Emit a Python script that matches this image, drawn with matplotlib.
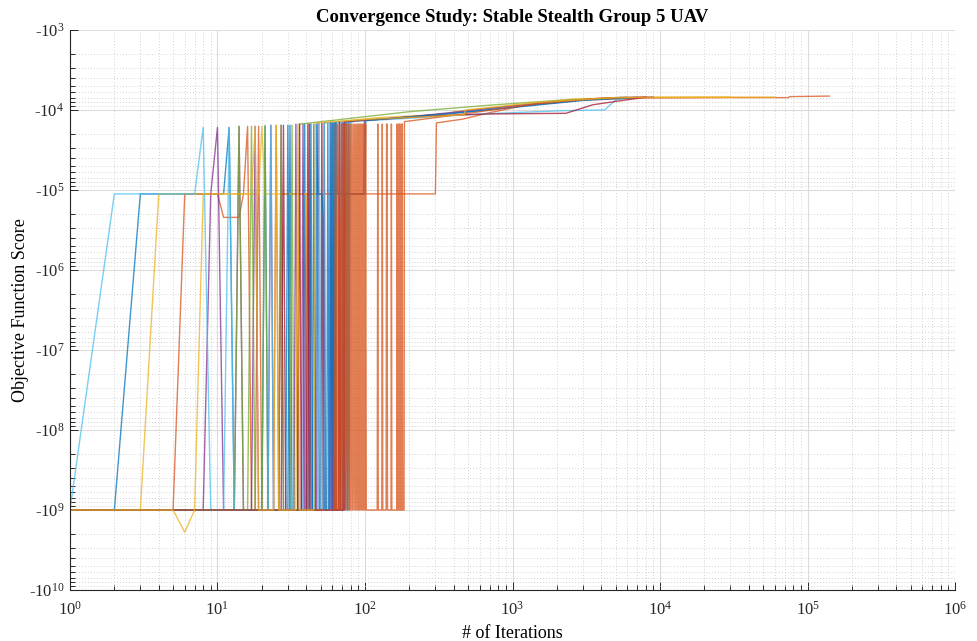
import numpy as np
import matplotlib.pyplot as plt
from matplotlib.ticker import FixedLocator, LogLocator, NullFormatter

plt.rcParams['font.family'] = 'Liberation Serif'
plt.rcParams['mathtext.fontset'] = 'custom'
plt.rcParams['mathtext.rm'] = 'Liberation Serif'
plt.rcParams['mathtext.it'] = 'Liberation Serif:italic'

LO = -1.0e9    # penalty score given to infeasible designs
MD = -1.12e5   # first feasible plateau

# each run: (iteration, objective score)
run01 = [(1, LO), (2, LO), (3, MD), (11, MD), (12, -1.65e4), (13, LO), (20, LO), (21, -1.6e4),
         (22, LO), (30, LO), (31, -1.55e4), (32, LO), (38, LO), (39, -1.5e4), (40, LO), (44, LO),
         (45, -1.5e4), (46, LO), (55, LO), (56, -1.45e4), (57, LO), (60, LO), (61, -1.45e4),
         (62, LO), (68, LO), (69, -1.42e4), (70, LO), (71, -1.42e4), (72, LO), (73, -1.42e4),
         (74, LO), (75, -1.42e4), (76, LO), (77, -1.42e4), (78, LO), (79, -1.42e4), (90, -1.36e4),
         (200, -1.22e4), (600, -1.02e4), (1500, -8.5e3), (3000, -7.5e3), (5500, -7.0e3)]

run02 = [(1, LO), (5, LO), (6, MD), (10, MD), (11, -2.2e5), (14, -2.2e5), (15, MD), (16, -1.6e4),
         (17, LO), (18, LO), (19, -1.6e4), (20, LO), (24, LO), (25, -1.55e4), (26, LO), (27, MD),
         (300, MD), (305, -1.45e4), (460, -1.3e4), (700, -1.08e4), (1200, -8.8e3), (3000, -7.5e3),
         (8000, -7.1e3), (30000, -7.0e3), (74000, -7.0e3), (76000, -6.8e3), (140000, -6.7e3)]

run03 = [(1, LO), (3, LO), (4, MD), (19, MD), (20, -1.6e4), (21, MD), (40, MD), (41, LO),
         (42, -1.5e4), (43, LO), (50, LO), (51, -1.45e4), (52, LO), (53, -1.45e4), (120, -1.25e4),
         (380, -1.12e4), (400, -1.05e4), (1000, -8.8e3), (2500, -7.3e3), (9000, -6.9e3),
         (30000, -6.9e3)]

run04 = [(1, LO), (8, LO), (9, MD), (10, -1.65e4), (11, LO), (13, LO), (14, -1.6e4), (15, LO),
         (17, LO), (18, -1.6e4), (19, LO), (22, LO), (23, -1.55e4), (24, LO), (26, LO),
         (27, -1.55e4), (28, LO), (33, LO), (34, -1.5e4), (35, LO), (37, LO), (38, -1.5e4),
         (39, LO), (41, LO), (42, -1.5e4), (43, LO), (47, LO), (48, -1.45e4), (49, LO), (50, LO),
         (51, -1.45e4), (52, LO), (53, -1.45e4), (54, LO), (58, LO), (59, -1.42e4), (60, LO),
         (66, LO), (67, -1.4e4), (68, LO), (70, LO), (71, -1.4e4), (72, LO), (73, MD), (98, MD),
         (99, -1.36e4), (250, -1.17e4), (800, -9.3e3), (2000, -7.8e3), (5000, -7.0e3),
         (9000, -6.9e3)]

run05 = [(1, LO), (13, LO), (14, -1.6e4), (15, LO), (16, LO), (17, -1.6e4), (18, LO), (20, LO),
         (21, -1.55e4), (22, LO), (26, LO), (27, -1.55e4), (28, LO), (31, LO), (32, -1.55e4),
         (33, LO), (35, LO), (36, -1.5e4), (200, -1.05e4), (700, -8.7e3), (2000, -7.6e3),
         (6000, -6.9e3)]

run06 = [(1, LO), (2, MD), (7, MD), (8, -1.65e4), (9, LO), (11, LO), (12, -1.65e4), (13, LO),
         (22, LO), (23, -1.55e4), (24, LO), (48, LO), (49, -1.45e4), (50, LO), (52, LO),
         (53, -1.45e4), (160, -1.3e4), (600, -1.12e4), (2200, -1.02e4), (4200, -1.0e4),
         (5000, -7.5e3), (6000, -7.0e3)]

run07 = [(1, LO), (27, LO), (28, -1.55e4), (29, LO), (35, LO), (36, -1.5e4), (37, LO), (40, LO),
         (41, -1.5e4), (42, LO), (62, LO), (63, -1.45e4), (64, LO), (66, LO), (67, -1.4e4),
         (68, LO), (72, LO), (73, -1.4e4), (90, -1.36e4), (300, -1.18e4), (700, -1.12e4),
         (2300, -1.1e4), (3500, -8.6e3), (8000, -6.9e3)]

run08 = [(1, LO), (29, LO), (30, -1.55e4), (31, LO), (42, LO), (43, -1.5e4), (44, LO), (46, LO),
         (47, -1.5e4), (48, MD), (51, MD), (52, -2.2e5), (53, LO), (57, LO), (58, -1.45e4),
         (59, LO), (60, -1.45e4), (61, LO), (62, -1.45e4), (63, LO), (64, -1.45e4), (65, MD),
         (100, MD), (101, -1.35e4), (400, -1.1e4), (1200, -9.0e3), (3000, -7.6e3), (7000, -6.95e3)]

run09 = [(1, LO), (62, LO), (63, -1.5e4), (64, LO), (65, -1.5e4), (66, LO), (67, -1.5e4), (68, LO),
         (69, -1.5e4), (70, LO), (71, -1.5e4), (72, LO), (73, -1.5e4), (74, LO), (75, -1.5e4),
         (76, LO), (77, -1.5e4), (78, LO), (79, -1.5e4), (80, LO), (81, -1.5e4), (82, LO),
         (83, -1.5e4), (84, LO), (85, -1.5e4), (86, LO), (87, -1.5e4), (88, LO), (89, -1.5e4),
         (90, LO), (91, -1.5e4), (92, LO), (93, -1.5e4), (94, LO), (95, -1.5e4), (96, LO),
         (97, -1.5e4), (98, LO), (99, -1.5e4), (100, LO), (101, -1.5e4), (102, LO), (121, LO),
         (122, -1.5e4), (123, LO), (130, LO), (131, -1.5e4), (132, LO), (139, LO), (140, -1.5e4),
         (141, -1.5e4), (142, LO), (150, LO), (151, -1.5e4), (152, LO), (164, LO), (165, -1.5e4),
         (166, LO), (167, -1.5e4), (168, LO), (170, LO), (171, -1.5e4), (172, LO), (173, -1.5e4),
         (174, LO), (176, LO), (177, -1.5e4), (178, LO), (179, -1.5e4), (180, LO), (184, LO),
         (185, -1.4e4), (500, -1.1e4), (1500, -8.3e3), (4000, -7.1e3), (8000, -6.9e3)]

run10 = [(1, LO), (5, LO), (6, -1.9e9), (7, LO), (8, MD), (17, MD), (18, -1.6e4), (19, LO),
         (24, LO), (25, -1.55e4), (26, LO), (34, LO), (35, -1.5e4), (36, LO), (45, LO),
         (46, -1.45e4), (110, -1.3e4), (300, -1.2e4), (470, -1.15e4), (480, -1.0e4),
         (1500, -8.0e3), (5000, -7.0e3), (20000, -6.9e3), (60000, -6.9e3)]

runs = [run01, run02, run03, run04, run05, run06, run07, run08, run09, run10]
colors = ['#0072BD', '#D95319', '#EDB120', '#7E2F8E', '#77AC30', '#4DBEEE', '#A2142F']


def neg_log(y):
    with np.errstate(divide='ignore', invalid='ignore'):
        return -np.log10(np.abs(y))


def neg_exp(v):
    return -10.0 ** (-np.asarray(v))


fig = plt.figure(figsize=(9.77, 6.41), dpi=100)
ax = fig.add_axes([0.0716, 0.0796, 0.906, 0.8736])

for i, run in enumerate(runs):
    it, score = zip(*run)
    ax.plot(it, score, color=colors[i % len(colors)], lw=1.0, alpha=0.75)

ax.set_xscale('log')
ax.set_yscale('function', functions=(neg_log, neg_exp))
ax.set_xlim(1, 1e6)
ax.set_ylim(-1e10, -1e3)

ax.xaxis.set_minor_locator(LogLocator(base=10, subs=np.arange(2, 10), numticks=100))
ax.xaxis.set_minor_formatter(NullFormatter())
ax.set_xticks([10 ** k for k in range(0, 7)])
ax.set_xticklabels(['10$^{%d}$' % k for k in range(0, 7)])

yt = [-10.0 ** k for k in range(3, 11)]
ax.yaxis.set_major_locator(FixedLocator(yt))
ax.set_yticklabels(['-10$^{%d}$' % k for k in range(3, 11)])
ymin = [-m * 10.0 ** k for k in range(3, 10) for m in range(2, 10)]
ax.yaxis.set_minor_locator(FixedLocator(ymin))
ax.yaxis.set_minor_formatter(NullFormatter())

ax.tick_params(which='both', direction='in', colors='#262626', labelsize=12, width=0.7)
ax.tick_params(which='major', length=6)
ax.tick_params(which='minor', length=3.5)
ax.tick_params(axis='x', pad=8)
ax.tick_params(axis='y', pad=4)

ax.set_axisbelow(True)
ax.grid(which='major', color='#dcdcdc', lw=0.8, ls='-')
ax.grid(which='minor', color='#c4c4c4', lw=0.6, ls=(0, (1, 2.5)))

for side in ['top', 'right']:
    ax.spines[side].set_visible(False)
for side in ['left', 'bottom']:
    ax.spines[side].set_color('#262626')
    ax.spines[side].set_linewidth(0.8)

ax.set_xlabel('# of Iterations', fontsize=13, labelpad=4)
ax.set_ylabel('Objective Function Score', fontsize=13, labelpad=0)
ax.set_title('Convergence Study: Stable Stealth Group 5 UAV', fontsize=13.5, fontweight='bold', pad=6)

fig.savefig('out.png', dpi=100)
